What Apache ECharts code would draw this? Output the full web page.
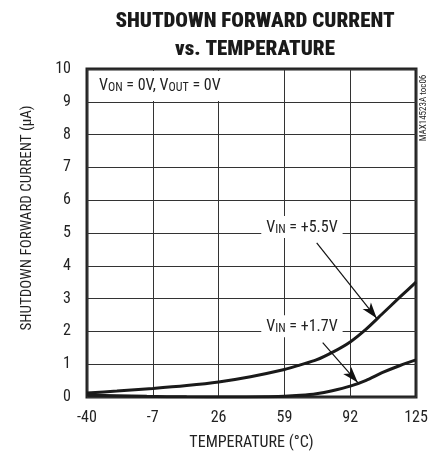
<!DOCTYPE html>
<html><head><meta charset="utf-8">
<script src="https://cdn.jsdelivr.net/npm/echarts@6/dist/echarts.min.js"></script>
<style>html,body{margin:0;padding:0;background:#fff}#c{width:445px;height:458px}</style>
</head><body><div id="c"></div>
<script>
const xTicks = [-40, -7, 26, 59, 92, 125];
const yTicks = [0,1,2,3,4,5,6,7,8,9,10];
const vin55 = [[-40,0.12],[-25,0.18],[-7,0.26],[10,0.35],[26,0.46],[42,0.62],[59,0.84],[67,0.98],[75,1.13],[83,1.36],[92,1.68],[100,2.07],[108,2.53],[117,3.05],[125,3.5]];
const vin17 = [[-40,0.06],[-25,0.04],[-10,0.02],[10,0.005],[30,0.0],[50,0.01],[59,0.02],[67,0.05],[75,0.1],[83,0.19],[92,0.33],[100,0.51],[108,0.74],[117,0.96],[125,1.13]];
const label55 = {coord:[67.8,5.18], text:'+5.5V'};
const label17 = {coord:[67.8,2.16], text:'+1.7V'};
const arrow55 = [[75.2,4.7],[105.3,2.4]];
const arrow17 = [[78.2,1.66],[95.8,0.44]];

const FONT = '"Roboto Condensed", "DejaVu Sans Condensed", sans-serif';
const chart = echarts.init(document.getElementById('c'));
const richVin = {
  m:{fontFamily:FONT,fontSize:16,color:'#222',lineHeight:18,verticalAlign:'bottom'},
  s:{fontFamily:FONT,fontSize:12,color:'#222',lineHeight:14,verticalAlign:'bottom'}
};
function vinLabel(l){
  return {coord:l.coord, symbolSize:0, label:{show:true, position:'inside',
    formatter:'{m|V}{s|IN}{m| = '+l.text+'}', backgroundColor:'#fff', padding:[2,5,2,5], rich:richVin}};
}
function arrow(a){
  return [{coord:a[0], symbol:'none'},{coord:a[1], symbol:'arrow', symbolSize:[8,16]}];
}
chart.setOption({
  animation:false,
  title:{text:'SHUTDOWN FORWARD CURRENT\nvs. TEMPERATURE', left:250, top:3, textAlign:'center',
    textStyle:{fontFamily:FONT,fontWeight:900,fontSize:21,lineHeight:28,color:'#1a1a1a'}},
  grid:{left:87,right:29,top:69,bottom:61,show:true,borderWidth:3,borderColor:'#222'},
  xAxis:{type:'value',min:-40,max:125,interval:33,
    axisLine:{show:false},axisTick:{show:false},
    splitLine:{lineStyle:{color:'#333',width:1}},
    axisLabel:{fontFamily:FONT,fontSize:16,color:'#222',margin:13}},
  yAxis:{type:'value',min:0,max:10,interval:1,
    axisLine:{show:false},axisTick:{show:false},
    splitLine:{lineStyle:{color:'#333',width:1}},
    axisLabel:{fontFamily:FONT,fontSize:16,color:'#222',margin:16}},
  graphic:[
    {type:'text',x:251.5,y:443,style:{text:'TEMPERATURE (°C)',font:'16px '+FONT,fill:'#222',align:'center',verticalAlign:'middle'}},
    {type:'text',x:27,y:218,rotation:Math.PI/2,style:{text:'SHUTDOWN FORWARD CURRENT (µA)',font:'15px '+FONT,fill:'#222',align:'center',verticalAlign:'middle'}},
    {type:'text',x:424,y:108,rotation:Math.PI/2,style:{text:'MAX14523A toc06',font:'9px '+FONT,fill:'#222',align:'center',verticalAlign:'middle'}},
    {type:'rect',z:50,shape:{x:89,y:71,width:147,height:30},style:{fill:'#fff'}},
    {type:'text',z:51,x:99,y:76,style:{rich:{m:{fontFamily:FONT,fontSize:16,fill:'#222',lineHeight:18,verticalAlign:'bottom'},s:{fontFamily:FONT,fontSize:12,fill:'#222',lineHeight:14,verticalAlign:'bottom'}},text:'{m|V}{s|ON}{m| = 0V, V}{s|OUT}{m| = 0V}'}}
  ],
  series:[
    {type:'line',data:vin55,smooth:0.3,showSymbol:false,lineStyle:{color:'#1a1a1a',width:3},z:3,
      markPoint:{data:[vinLabel(label55)],z:5},
      markLine:{silent:true,symbol:['none','arrow'],lineStyle:{color:'#111',width:1.2,type:'solid'},label:{show:false},data:[arrow(arrow55)]}},
    {type:'line',data:vin17,smooth:0.3,showSymbol:false,lineStyle:{color:'#1a1a1a',width:3},z:3,
      markPoint:{data:[vinLabel(label17)],z:5},
      markLine:{silent:true,symbol:['none','arrow'],lineStyle:{color:'#111',width:1.2,type:'solid'},label:{show:false},data:[arrow(arrow17)]}}
  ]
});
</script></body></html>
